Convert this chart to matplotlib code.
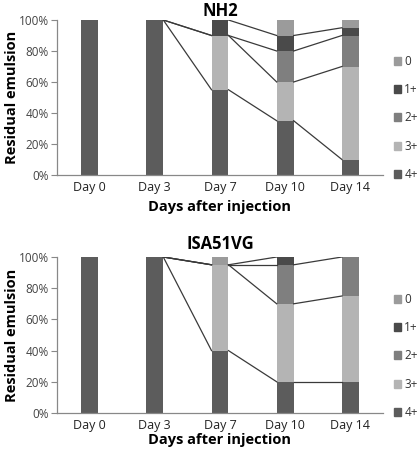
import matplotlib
matplotlib.use("Agg")
import matplotlib.pyplot as plt
import numpy as np

plt.rcParams['font.family'] = ['Open Sans', 'DejaVu Sans']

days = ["Day 0", "Day 3", "Day 7", "Day 10", "Day 14"]
grades = ["4+", "3+", "2+", "1+", "0"]
colors = ["#5c5c5c", "#b4b4b4", "#7f7f7f", "#4a4a4a", "#9b9b9b"]

# percentages per grade (bottom -> top), per day
nh2_4 = [100, 100, 55, 35, 10]
nh2_3 = [0, 0, 35, 25, 60]
nh2_2 = [0, 0, 0, 20, 20]
nh2_1 = [0, 0, 10, 10, 5]
nh2_0 = [0, 0, 0, 10, 5]

isa_4 = [100, 100, 40, 20, 20]
isa_3 = [0, 0, 55, 50, 55]
isa_2 = [0, 0, 0, 25, 25]
isa_1 = [0, 0, 0, 5, 0]
isa_0 = [0, 0, 5, 0, 0]

W, H = 417, 449
fig = plt.figure(figsize=(W / 100, H / 100), dpi=100)

def panel(rect, title, series, leg_y, tpad, xpad):
    ax = fig.add_axes(rect)
    x = np.arange(len(days))
    bw = 0.26
    bottom = np.zeros(len(days))
    tops = []
    for vals, c in zip(series, colors):
        v = np.array(vals, float)
        ax.bar(x, v, bw, bottom=bottom, color=c, zorder=2)
        bottom = bottom + v
        tops.append(bottom.copy())
    # series lines between bars (from Day 3 on), none along the 100% top
    for t in tops:
        for i in range(1, len(days) - 1):
            if t[i] >= 100 and t[i + 1] >= 100:
                continue
            ax.plot([x[i] + bw / 2, x[i + 1] - bw / 2], [t[i], t[i + 1]],
                    color="#3a3a3a", lw=0.9, zorder=3)
    ax.set_xlim(-0.5, len(days) - 0.5)
    ax.set_ylim(0, 100)
    ax.set_yticks(range(0, 101, 20))
    ax.set_yticklabels([f"{v}%" for v in range(0, 101, 20)], fontsize=8.5, color="#444")
    ax.set_xticks(x)
    ax.set_xticklabels(days, fontsize=9, color="#222")
    ax.tick_params(axis="x", length=0, pad=4)
    ax.tick_params(axis="y", length=4, width=0.8, color="#888", pad=2)
    for s in ("top", "right"):
        ax.spines[s].set_visible(False)
    for s in ("left", "bottom"):
        ax.spines[s].set_color("#888")
        ax.spines[s].set_linewidth(0.9)
    ax.set_title(title, fontsize=12, fontweight="bold", pad=tpad)
    ax.set_xlabel("Days after injection", fontsize=10.5, fontweight="bold", labelpad=xpad)
    ax.set_ylabel("Residual emulsion", fontsize=10.5, fontweight="bold")
    ax.yaxis.set_label_coords(-38 / (rect[2] * W), 0.5)
    handles = [plt.Rectangle((0, 0), 1, 1, color=c) for c in colors]
    fig.legend(handles[::-1], grades[::-1], loc="upper left",
               bbox_to_anchor=(389 / W, leg_y), frameon=False, fontsize=8.5,
               handlelength=0.65, handleheight=0.65, handletextpad=0.25,
               labelspacing=1.3, borderaxespad=0, labelcolor="#333")
    return ax

panel([57 / W, 1 - 175 / H, 326 / W, 155 / H], "NH2",
      [nh2_4, nh2_3, nh2_2, nh2_1, nh2_0], 1 - 50 / H, 3, 5)
panel([57 / W, 1 - 413 / H, 326 / W, 156 / H], "ISA51VG",
      [isa_4, isa_3, isa_2, isa_1, isa_0], 1 - 288 / H, 6, 1)

fig.savefig("out.png", dpi=100)
